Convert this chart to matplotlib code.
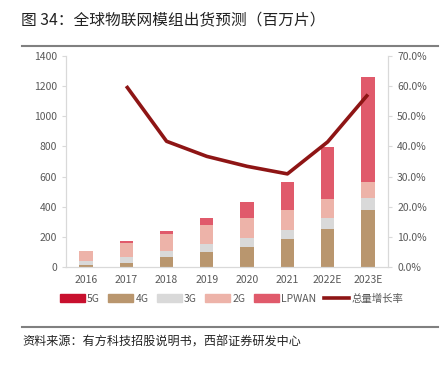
import numpy as np
import matplotlib
matplotlib.use('Agg')
import matplotlib.pyplot as plt
from matplotlib.lines import Line2D

plt.rcParams['font.family'] = ['Noto Sans CJK SC', 'DejaVu Sans']

# 数据（百万片）
years = ['2016', '2017', '2018', '2019', '2020', '2021', '2022E', '2023E']
v5g = [0, 0, 0, 0, 0, 0, 1, 1]
v4g = [11, 29, 64, 102, 135, 186, 254, 376]
v3g = [33, 38, 45, 49, 57, 62, 71, 80]
v2g = [63, 91, 109, 125, 133, 130, 124, 104]
lpwan = [0, 13, 24, 51, 109, 186, 345, 697]
growth = [np.nan, 60.0, 41.7, 36.7, 33.4, 30.9, 41.5, 57.2]

c5g = '#C8102E'
c4g = '#B9966E'
c3g = '#D9D9D9'
c2g = '#EDB3A9'
clp = '#E05A6B'
cline = '#8E1515'
gray = '#595959'

fig = plt.figure(figsize=(4.42, 3.70), dpi=100)
ax = fig.add_axes([0.149, 0.278, 0.729, 0.571])
x = np.arange(len(years))
w = 0.33

bottom = np.zeros(len(years))
for vals, col, lab in [(v5g, c5g, '5G'), (v4g, c4g, '4G'), (v3g, c3g, '3G'),
                       (v2g, c2g, '2G'), (lpwan, clp, 'LPWAN')]:
    ax.bar(x, vals, w, bottom=bottom, color=col, label=lab, zorder=2)
    bottom += np.array(vals)

ax.set_xlim(-0.5, len(years) - 0.5)
ax.set_ylim(0, 1400)
ax.set_yticks(range(0, 1401, 200))
ax.set_xticks(x)
ax.set_xticklabels(years)

ax2 = ax.twinx()
ax2.plot(x, growth, color=cline, lw=2.6, zorder=3, solid_capstyle='butt')
ax2.set_ylim(0, 70)
ax2.set_yticks(range(0, 71, 10))
ax2.set_yticklabels([f'{t:.1f}%' for t in range(0, 71, 10)])

for a in (ax, ax2):
    for s in a.spines.values():
        s.set_color('#D9D9D9')
    a.spines['top'].set_visible(False)
    a.tick_params(colors=gray, labelsize=7.5, length=3, width=0.8)
    a.tick_params(axis='both', color='#D9D9D9')
ax.tick_params(axis='x', length=0, pad=6)

# 图例
handles = [plt.Rectangle((0, 0), 1, 1, color=c) for c in (c5g, c4g, c3g, c2g, clp)]
handles.append(Line2D([0], [0], color=cline, lw=2.6))
labels = ['5G', '4G', '3G', '2G', 'LPWAN', '总量增长率']
leg = fig.legend(handles, labels, loc='center', bbox_to_anchor=(0.524, 0.193), ncol=6,
                 frameon=False, fontsize=7.5, handlelength=2.4, handleheight=0.8,
                 handletextpad=0.2, columnspacing=0.8)
for t in leg.get_texts():
    t.set_color(gray)

# 标题与来源
fig.text(0.047, 0.943, '图 34：全球物联网模组出货预测（百万片）', fontsize=11.3,
         color='#222222', va='center')
fig.add_artist(Line2D([0.05, 0.99], [0.876, 0.876], color='#808080', lw=1.5))
fig.add_artist(Line2D([0.05, 0.99], [0.117, 0.117], color='#808080', lw=1.5))
fig.text(0.05, 0.075, '资料来源：有方科技招股说明书，西部证券研发中心', fontsize=8.7,
         color='#222222', va='center')

fig.savefig('out.png', dpi=100)
